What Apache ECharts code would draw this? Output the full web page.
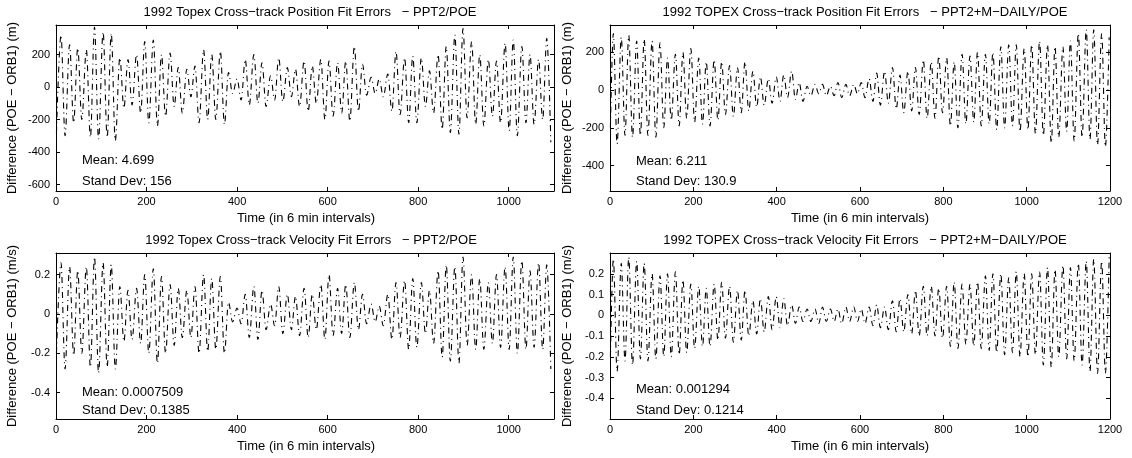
<!DOCTYPE html>
<html><head><meta charset="utf-8">
<script src="https://cdn.jsdelivr.net/npm/echarts@6/dist/echarts.min.js"></script>
<style>html,body{margin:0;padding:0;background:#fff}#c{width:1132px;height:458px}</style>
</head><body><div id="c"></div>
<script>
// ---- time stamps of the extrema (in 6-min intervals) ----
const tPeakA = [11,30,48,67,85,104,122,141,159,178,196,215,233,252,270,289,307,326,344,363,381,400,418,437,455,474,492,511,529,548,566,585,603,622,640,659,677,696,714,733,751,770,788,807,825,844,862,881,899,918,936,955,973,992,1010,1029,1047,1066,1084];
const tTroughA = [1,20,39,57,76,94,113,131,150,168,187,205,224,242,261,279,298,316,335,353,372,390,409,427,446,464,483,501,520,538,557,575,594,612,631,649,668,686,705,723,742,760,779,797,816,834,853,871,890,908,927,945,964,982,1001,1019,1038,1056,1075,1093];
const tPeakB = [8,27,45,64,82,101,120,138,157,175,194,213,231,250,268,287,306,324,343,361,380,399,417,436,454,473,492,510,529,547,566,585,603,622,640,659,678,696,715,733,752,771,789,808,826,845,864,882,901,919,938,957,975,994,1012,1031,1050,1068,1087,1105,1124,1143,1161,1180,1198];
const tTroughB = [1,17,36,54,73,91,110,129,147,166,184,203,222,240,259,277,296,315,333,352,370,389,408,426,445,463,482,501,519,538,556,575,594,612,631,649,668,687,705,724,742,761,780,798,817,835,854,873,891,910,928,947,966,984,1003,1021,1040,1059,1077,1096,1114,1133,1152,1170,1189];

// ---- panel 1: position, PPT2/POE (m) ----
const p1Peak = [320,260,240,230,370,340,330,180,170,200,280,290,200,210,120,110,130,230,200,220,90,50,170,200,150,70,180,120,110,160,130,170,160,150,160,250,140,60,50,80,220,180,190,180,100,200,250,320,360,280,200,170,160,270,290,250,200,170,300];
const p1Trough = [-280,-300,-220,-200,-310,-320,-310,-330,-130,-110,-160,-220,-240,-180,-120,-160,-60,-220,-200,-200,-230,-40,-80,-110,-100,-120,-80,-90,-60,-120,-150,-100,-200,-180,-160,-210,-150,-50,-40,-60,-150,-170,-220,-220,-120,-160,-260,-280,-290,-190,-230,-240,-180,-220,-270,-300,-220,-230,-200,-340];
// ---- panel 2: position, PPT2+M-DAILY/POE (m) ----
const p2Peak = [300,280,290,260,270,260,250,170,190,200,220,170,150,160,150,130,120,150,100,70,60,70,80,100,40,20,30,30,20,40,30,30,40,60,90,100,120,80,100,120,160,150,180,170,150,190,180,200,190,200,230,240,240,220,240,260,240,230,230,260,300,320,320,300,280];
const p2Trough = [-200,-285,-240,-250,-240,-240,-250,-200,-160,-190,-150,-170,-180,-190,-160,-130,-140,-120,-110,-90,-80,-70,-60,-40,-50,-60,-30,-20,-30,-30,-40,-30,-20,-40,-60,-80,-70,-100,-120,-110,-130,-150,-150,-120,-190,-200,-180,-170,-190,-180,-210,-200,-190,-220,-210,-230,-240,-280,-250,-220,-270,-250,-260,-290,-300];
// ---- panel 3: velocity, PPT2/POE (m/s) ----
const p3Peak = [0.26,0.24,0.22,0.24,0.29,0.26,0.25,0.14,0.12,0.13,0.20,0.23,0.19,0.15,0.13,0.12,0.14,0.20,0.18,0.19,0.06,0.03,0.10,0.14,0.12,0.05,0.14,0.10,0.09,0.13,0.10,0.15,0.20,0.13,0.15,0.16,0.10,0.05,0.04,0.10,0.16,0.17,0.18,0.16,0.12,0.22,0.25,0.24,0.29,0.20,0.18,0.16,0.20,0.24,0.29,0.27,0.22,0.26,0.25];
const p3Trough = [-0.20,-0.28,-0.21,-0.20,-0.27,-0.30,-0.27,-0.28,-0.14,-0.13,-0.15,-0.20,-0.25,-0.20,-0.16,-0.12,-0.12,-0.20,-0.19,-0.18,-0.20,-0.04,-0.05,-0.12,-0.13,-0.08,-0.06,-0.10,-0.08,-0.11,-0.12,-0.08,-0.13,-0.11,-0.10,-0.12,-0.08,-0.05,-0.04,-0.06,-0.13,-0.12,-0.18,-0.17,-0.10,-0.15,-0.22,-0.24,-0.25,-0.16,-0.18,-0.18,-0.15,-0.17,-0.18,-0.20,-0.18,-0.17,-0.18,-0.28];
// ---- panel 4: velocity, PPT2+M-DAILY/POE (m/s) ----
const p4Peak = [0.27,0.25,0.28,0.26,0.25,0.20,0.19,0.20,0.21,0.17,0.15,0.14,0.13,0.15,0.16,0.14,0.12,0.12,0.07,0.08,0.09,0.09,0.08,0.05,0.04,0.03,0.03,0.04,0.03,0.03,0.04,0.04,0.03,0.04,0.05,0.04,0.07,0.08,0.10,0.12,0.14,0.14,0.13,0.14,0.16,0.15,0.15,0.16,0.19,0.20,0.20,0.18,0.21,0.20,0.20,0.21,0.23,0.22,0.24,0.23,0.25,0.26,0.27,0.26,0.28];
const p4Trough = [-0.20,-0.27,-0.22,-0.24,-0.21,-0.22,-0.21,-0.20,-0.20,-0.19,-0.18,-0.16,-0.15,-0.15,-0.12,-0.11,-0.13,-0.12,-0.10,-0.09,-0.08,-0.07,-0.06,-0.05,-0.04,-0.03,-0.03,-0.04,-0.03,-0.03,-0.04,-0.03,-0.03,-0.04,-0.05,-0.06,-0.07,-0.08,-0.08,-0.09,-0.10,-0.10,-0.10,-0.11,-0.15,-0.16,-0.14,-0.15,-0.16,-0.17,-0.18,-0.19,-0.18,-0.20,-0.20,-0.19,-0.24,-0.25,-0.20,-0.21,-0.22,-0.24,-0.27,-0.28,-0.28];

// ---- tick labels ----
const xTicksA = [0,200,400,600,800,1000];
const xTicksB = [0,200,400,600,800,1000,1200];
const yTicks1 = [-600,-400,-200,0,200];
const yTicks2 = [-400,-200,0,200];
const yTicks3 = [-0.4,-0.2,0,0.2];
const yTicks4 = [-0.4,-0.3,-0.2,-0.1,0,0.1,0.2];

const titles = [
  '1992 Topex Cross\u2212track Position Fit Errors   \u2212 PPT2/POE',
  '1992 TOPEX Cross\u2212track Position Fit Errors   \u2212 PPT2+M\u2212DAILY/POE',
  '1992 Topex Cross\u2212track Velocity Fit Errors   \u2212 PPT2/POE',
  '1992 TOPEX Cross\u2212track Velocity Fit Errors   \u2212 PPT2+M\u2212DAILY/POE'
];
const means = ['Mean: 4.699','Mean: 6.211','Mean: 0.0007509','Mean: 0.001294'];
const stds = ['Stand Dev: 156','Stand Dev: 130.9','Stand Dev: 0.1385','Stand Dev: 0.1214'];
const yNames = ['Difference (POE \u2212 ORB1) (m)','Difference (POE \u2212 ORB1) (m)','Difference (POE \u2212 ORB1) (m/s)','Difference (POE \u2212 ORB1) (m/s)'];
const xName = 'Time (in 6 min intervals)';

function merge(tT, vT, tP, vP) {
  const out = [];
  for (let i = 0; i < tT.length; i++) {
    out.push([tT[i], vT[i]]);
    if (i < tP.length) out.push([tP[i], vP[i]]);
  }
  return out;
}

const FONT = '"Liberation Sans", Arial, Helvetica, sans-serif';
const grids = [
  {left:56, top:25, width:498, height:166},
  {left:610, top:25, width:500, height:166},
  {left:56, top:253, width:498, height:166},
  {left:610, top:253, width:500, height:166}
];
const xMax = [1100,1200,1100,1200];
const xTicks = [xTicksA,xTicksB,xTicksA,xTicksB];
const yMin = [-640,-535,-0.534,-0.5];
const yMax = [382,345,0.31,0.3];
const yTicks = [yTicks1,yTicks2,yTicks3,yTicks4];
const data = [
  merge(tTroughA,p1Trough,tPeakA,p1Peak),
  merge(tTroughB,p2Trough,tPeakB,p2Peak),
  merge(tTroughA,p3Trough,tPeakA,p3Peak),
  merge(tTroughB,p4Trough,tPeakB,p4Peak)
];
const plain = v => String(Math.round(v * 1000) / 1000);

const xAxis = [], yAxis = [], series = [], graphic = [];
for (let g = 0; g < 4; g++) {
  ['bottom','top'].forEach((pos, k) => {
    xAxis.push({
      type:'value', gridIndex:g, position:pos, min:0, max:xMax[g],
      axisLine:{show:true, onZero:false, lineStyle:{color:'#000', width:1}},
      axisTick:{show:true, inside:true, length:4, customValues:xTicks[g], lineStyle:{color:'#000'}},
      axisLabel:{show:k===0, customValues:xTicks[g], formatter:plain, margin:5, color:'#000', fontSize:11, fontFamily:FONT},
      splitLine:{show:false}
    });
  });
  ['left','right'].forEach((pos, k) => {
    yAxis.push({
      type:'value', gridIndex:g, position:pos, min:yMin[g], max:yMax[g],
      axisLine:{show:true, onZero:false, lineStyle:{color:'#000', width:1}},
      axisTick:{show:true, inside:true, length:4, customValues:yTicks[g], lineStyle:{color:'#000'}},
      axisLabel:{show:k===0, customValues:yTicks[g], formatter:plain, margin:6, color:'#000', fontSize:11, fontFamily:FONT},
      splitLine:{show:false}
    });
  });
  series.push({
    type:'line', xAxisIndex:g*2, yAxisIndex:g*2, data:data[g],
    showSymbol:false, smooth:0.35, smoothMonotone:'x', clip:true,
    lineStyle:{color:'#000', width:1.1, type:[6,4,1,4]}
  });
}

function txt(x, y, text, opts) {
  return Object.assign({
    type:'text', x:x, y:y, silent:true,
    style:Object.assign({text:text, fill:'#000', fontSize:13, fontFamily:FONT, align:'left', verticalAlign:'middle'}, (opts && opts.style) || {})
  }, opts && opts.rotation !== undefined ? {rotation:opts.rotation} : {});
}
const titleX = [310, 865, 311, 865];
const titleY = [12, 12, 240, 240];
const textX = [82, 636, 82, 636];
const meanY = [160, 161, 392, 389];
const stdY = [181.5, 181.5, 410.5, 410];
const yNameX = [12.8, 567, 12.8, 567];
const xNameX = [306, 860, 306, 860];
const xNameY = [218, 218, 446, 446];
for (let g = 0; g < 4; g++) {
  const gr = grids[g];
  graphic.push(txt(titleX[g], titleY[g], titles[g], {style:{align:'center'}}));
  graphic.push(txt(textX[g], meanY[g], means[g]));
  graphic.push(txt(textX[g], stdY[g], stds[g]));
  graphic.push(txt(yNameX[g], gr.top + gr.height/2, yNames[g], {rotation:Math.PI/2, style:{align:'center'}}));
  graphic.push(txt(xNameX[g], xNameY[g], xName, {style:{align:'center'}}));
}

const chart = echarts.init(document.getElementById('c'), null, {renderer:'canvas'});
chart.setOption({
  animation:false,
  backgroundColor:'#fff',
  grid:grids,
  xAxis:xAxis, yAxis:yAxis, series:series, graphic:graphic
});
</script></body></html>
